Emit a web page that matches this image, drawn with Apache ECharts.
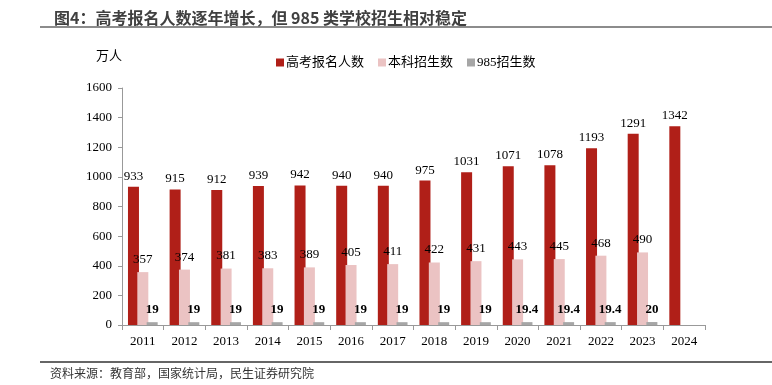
<!DOCTYPE html>
<html><head><meta charset="utf-8">
<script src="https://cdn.jsdelivr.net/npm/echarts@6/dist/echarts.min.js"></script>
<style>html,body{margin:0;padding:0;background:#fff}#c{width:772px;height:385px}</style>
</head><body><div id="c"></div>
<script>
const years = ['2011','2012','2013','2014','2015','2016','2017','2018','2019','2020','2021','2022','2023','2024'];
const gaokao = [933,915,912,939,942,940,940,975,1031,1071,1078,1193,1291,1342];
const benke = [357,374,381,383,389,405,411,422,431,443,445,468,490,null];
const s985 = [19,19,19,19,19,19,19,19,19,19.4,19.4,19.4,20,null];
const yTicks = [0,200,400,600,800,1000,1200,1400,1600];

const serif = "'Liberation Serif','Times New Roman','Noto Sans CJK SC',serif";
const chart = echarts.init(document.getElementById('c'));
chart.setOption({
  animation:false,
  title:{text:'图4：高考报名人数逐年增长，但 985 类学校招生相对稳定',left:49,top:5,
    textStyle:{fontSize:16,fontWeight:'bold',color:'#404040',fontFamily:"'Noto Sans CJK SC',sans-serif"}},
  graphic:[
    {type:'line',shape:{x1:40,y1:27,x2:772,y2:27},style:{stroke:'#666',lineWidth:1.5}},
    {type:'line',shape:{x1:40,y1:362,x2:772,y2:362},style:{stroke:'#666',lineWidth:2}},
    {type:'text',left:50,top:367,style:{text:'资料来源：教育部，国家统计局，民生证券研究院',fontSize:12,fill:'#333',fontFamily:"'Noto Sans CJK SC',sans-serif"}},
    {type:'text',left:96,top:50,style:{text:'万人',fontSize:13,fill:'#000',fontFamily:serif}}
  ],
  legend:{left:271,top:51,itemWidth:8,itemHeight:8,itemGap:14,icon:'rect',
    textStyle:{fontSize:13,color:'#000',fontFamily:serif,padding:[0,0,0,-3]},
    data:['高考报名人数','本科招生数','985招生数']},
  grid:{left:122,right:67,top:88,bottom:60,containLabel:false},
  xAxis:{type:'category',data:years,
    axisLine:{lineStyle:{color:'#999'}},
    axisTick:{show:true,alignWithLabel:false,length:5,lineStyle:{color:'#999'}},
    axisLabel:{fontSize:13,color:'#000',fontFamily:serif,margin:10}},
  yAxis:{type:'value',min:0,max:1600,interval:200,
    splitLine:{show:false},
    axisLine:{show:true,lineStyle:{color:'#999'}},
    axisTick:{show:true,length:4,lineStyle:{color:'#999'}},
    axisLabel:{fontSize:13,color:'#000',fontFamily:serif,margin:10,
      formatter:v=>yTicks.includes(v)?String(v):''}},
  series:[
    {name:'高考报名人数',type:'bar',data:gaokao,barWidth:11,barGap:'-15%',
      itemStyle:{color:'#B01F18'},
      label:{show:true,position:'top',distance:4,fontSize:13,color:'#000',fontFamily:serif}},
    {name:'本科招生数',type:'bar',data:benke,barWidth:11,barGap:'-15%',
      itemStyle:{color:'#EBC3C3'},
      label:{show:true,position:'top',distance:6,fontSize:13,color:'#000',fontFamily:serif}},
    {name:'985招生数',type:'bar',data:s985,barWidth:11,barGap:'-15%',
      itemStyle:{color:'#A6A6A6'},
      label:{show:true,position:'top',distance:6,fontSize:13,fontWeight:'bold',color:'#000',fontFamily:serif}}
  ]
});
</script></body></html>
